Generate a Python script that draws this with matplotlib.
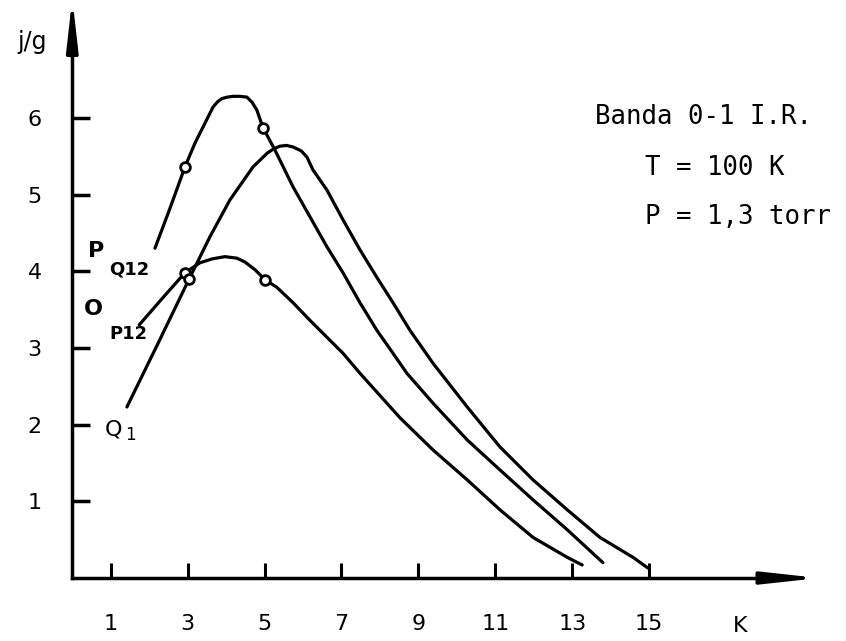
import numpy as np
from matplotlib import pyplot as plt

# values (K, j/g)
pq12_k = [2.15, 2.54, 2.93, 3.19, 3.40, 3.55, 3.66, 3.78, 3.89, 4.03, 4.18,
          4.36, 4.54, 4.68, 4.80, 4.96, 5.27, 5.74, 6.18, 6.62, 7.04, 7.48,
          7.92, 8.34, 8.70, 9.38, 10.27, 11.12, 11.98, 12.87, 13.80]
pq12_j = [4.30, 4.82, 5.36, 5.67, 5.88, 6.03, 6.14, 6.21, 6.25, 6.27, 6.28,
          6.28, 6.27, 6.20, 6.10, 5.87, 5.58, 5.10, 4.71, 4.32, 3.98, 3.59,
          3.23, 2.93, 2.67, 2.28, 1.80, 1.41, 1.02, 0.63, 0.20]

op12_k = [1.74, 2.33, 2.93, 3.32, 3.63, 3.97, 4.28, 4.49, 4.75, 5.01, 5.32,
          5.74, 6.18, 6.62, 7.04, 7.48, 8.52, 9.38, 10.27, 11.12, 11.98,
          12.87, 13.26]
op12_j = [3.30, 3.64, 3.98, 4.11, 4.16, 4.19, 4.17, 4.12, 4.02, 3.89, 3.79,
          3.59, 3.36, 3.14, 2.93, 2.67, 2.09, 1.67, 1.28, 0.89, 0.53,
          0.27, 0.17]

q1_k = [1.42, 2.23, 3.04, 3.58, 4.10, 4.70, 5.07, 5.25, 5.40, 5.57, 5.74,
        5.95, 6.10, 6.26, 6.62, 7.04, 7.48, 7.92, 8.34, 8.78, 9.38, 10.27,
        11.12, 11.98, 12.87, 13.72, 14.58, 14.97]
q1_j = [2.23, 3.06, 3.90, 4.45, 4.93, 5.36, 5.54, 5.60, 5.63, 5.64, 5.62,
        5.57, 5.49, 5.32, 5.06, 4.67, 4.28, 3.92, 3.59, 3.23, 2.80, 2.23,
        1.71, 1.28, 0.89, 0.53, 0.27, 0.13]

# open circles marked on the curves
circ_k = [2.93, 4.96, 2.93, 5.01, 3.04]
circ_j = [5.36, 5.87, 3.98, 3.89, 3.90]

x_ticks = [1, 3, 5, 7, 9, 11, 13, 15]
y_ticks = [1, 2, 3, 4, 5, 6]

fig = plt.figure(figsize=(8.46, 6.41), dpi=100)
ax = fig.add_axes([0, 0, 1, 1])
ax.set_xlim(-1.88, 20.12)
ax.set_ylim(-0.821, 7.536)

for s in ['top', 'right']:
    ax.spines[s].set_visible(False)
ax.spines['left'].set_position(('data', 0))
ax.spines['bottom'].set_position(('data', 0))
ax.spines['left'].set_bounds(0, 6.9)
ax.spines['bottom'].set_bounds(0, 18.4)
ax.spines['left'].set_linewidth(2.5)
ax.spines['bottom'].set_linewidth(2.5)

ax.set_xticks(x_ticks)
ax.set_yticks(y_ticks)
ax.tick_params(axis='x', direction='in', length=11, width=2.2, pad=26, labelsize=16)
ax.tick_params(axis='y', direction='in', length=13, width=2.5, pad=22, labelsize=16)

# arrow heads on the axes
ax.annotate('', xy=(19.42, 0), xytext=(18.2, 0), annotation_clip=False,
            arrowprops=dict(arrowstyle='-|>,head_length=3.3,head_width=0.36',
                            lw=2.5, color='black', shrinkA=0, shrinkB=0))
ax.annotate('', xy=(0, 7.56), xytext=(0, 6.8), annotation_clip=False,
            arrowprops=dict(arrowstyle='-|>,head_length=3.0,head_width=0.34',
                            lw=2.5, color='black', shrinkA=0, shrinkB=0))

ax.plot(pq12_k, pq12_j, color='black', lw=2.3, solid_capstyle='round')
ax.plot(op12_k, op12_j, color='black', lw=2.3, solid_capstyle='round')
ax.plot(q1_k, q1_j, color='black', lw=2.3, solid_capstyle='round')
ax.plot(circ_k, circ_j, 'o', ms=7, mfc='white', mec='black', mew=2)

ax.text(-1.05, 6.99, 'j/g', fontsize=17, ha='center', va='center')
ax.text(17.37, -0.62, 'K', fontsize=16, ha='center', va='center')

# curve labels
ax.text(0.62, 4.26, 'P', fontsize=16, fontweight='bold', ha='center', va='center')
ax.text(1.48, 4.02, 'Q12', fontsize=13, fontweight='bold', ha='center', va='center')
ax.text(0.56, 3.51, 'O', fontsize=16, fontweight='bold', ha='center', va='center')
ax.text(1.45, 3.18, 'P12', fontsize=13, fontweight='bold', ha='center', va='center')
ax.text(1.06, 1.93, 'Q', fontsize=16, ha='center', va='center')
ax.text(1.50, 1.86, '1', fontsize=12, ha='center', va='center')

mono = 'DejaVu Sans Mono'
ax.text(13.59, 6.01, 'Banda 0-1 I.R.', fontsize=18.5, family=mono, ha='left', va='center')
ax.text(14.89, 5.35, 'T = 100 K', fontsize=18.5, family=mono, ha='left', va='center')
ax.text(14.89, 4.71, 'P = 1,3 torr', fontsize=18.5, family=mono, ha='left', va='center')

fig.savefig('out.png', dpi=100)
